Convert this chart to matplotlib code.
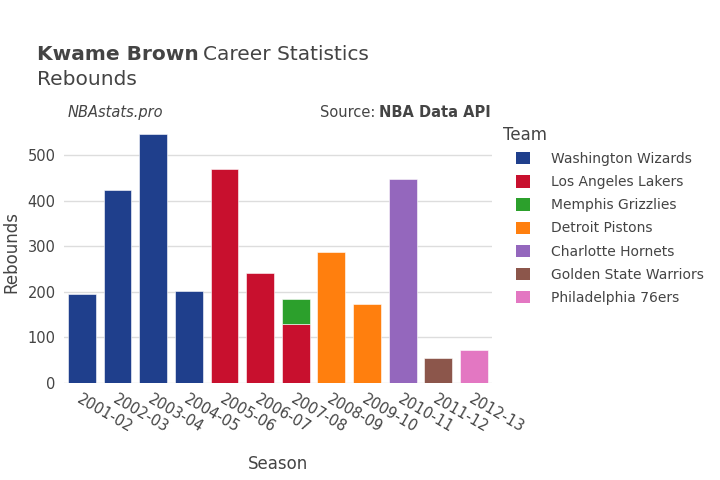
import matplotlib.pyplot as plt
import numpy as np
from matplotlib.patches import Patch

seasons = ["2001-02", "2002-03", "2003-04", "2004-05", "2005-06", "2006-07",
           "2007-08", "2008-09", "2009-10", "2010-11", "2011-12", "2012-13"]

teams = ["Washington Wizards", "Los Angeles Lakers", "Memphis Grizzlies",
         "Detroit Pistons", "Charlotte Hornets", "Golden State Warriors",
         "Philadelphia 76ers"]

team_colors = ["#1f3f8c", "#c8102e", "#2ca02c", "#ff7f0e", "#9467bd",
               "#8c564b", "#e377c2"]

# rebounds per season for each team (0 = did not play there)
wizards = [196, 423, 547, 203, 0, 0, 0, 0, 0, 0, 0, 0]
lakers = [0, 0, 0, 0, 470, 242, 130, 0, 0, 0, 0, 0]
grizzlies = [0, 0, 0, 0, 0, 0, 55, 0, 0, 0, 0, 0]
pistons = [0, 0, 0, 0, 0, 0, 0, 288, 174, 0, 0, 0]
hornets = [0, 0, 0, 0, 0, 0, 0, 0, 0, 448, 0, 0]
warriors = [0, 0, 0, 0, 0, 0, 0, 0, 0, 0, 55, 0]
sixers = [0, 0, 0, 0, 0, 0, 0, 0, 0, 0, 0, 72]

series = [wizards, lakers, grizzlies, pistons, hornets, warriors, sixers]

plt.rcParams['font.family'] = ['DejaVu Sans']
txt = "#444444"

fig = plt.figure(figsize=(7.2, 4.8), dpi=100)
ax = fig.add_axes([0.089, 0.202, 0.594, 0.546])

x = np.arange(len(seasons))
bottom = np.zeros(len(seasons))
for vals, col in zip(series, team_colors):
    v = np.array(vals, dtype=float)
    mask = v > 0
    ax.bar(x[mask], v[mask], bottom=bottom[mask], width=0.78, color=col,
           edgecolor="white", linewidth=0.4, zorder=3)
    bottom += v

ax.set_xlim(-0.5, len(seasons) - 0.5)
ax.set_ylim(0, 575)
ax.set_yticks([0, 100, 200, 300, 400, 500])
ax.grid(axis="y", color="#dddddd", linewidth=1, zorder=0)
for s in ax.spines.values():
    s.set_visible(False)
ax.tick_params(length=0, labelsize=10.5, colors=txt, pad=6)
ax.set_xticks(x)
ax.set_xticklabels(seasons, rotation=-30, ha="left", va="top",
                   rotation_mode="anchor")
ax.set_ylabel("Rebounds", fontsize=12, color=txt, labelpad=5)
ax.set_xlabel("Season", fontsize=12, color=txt, labelpad=14)

fig.canvas.draw()
r = fig.canvas.get_renderer()

t1 = fig.text(0.051, 0.875, "Kwame Brown", fontsize=14.5, fontweight="bold", color=txt)
bb = t1.get_window_extent(r)
fig.text((bb.x1 + 5) / 720, 0.875, "Career Statistics", fontsize=14.5, color=txt)
fig.text(0.051, 0.822, "Rebounds", fontsize=14.5, color=txt)
fig.text(0.094, 0.757, "NBAstats.pro", fontsize=10.5, style="italic", color=txt)
t2 = fig.text(0.682, 0.757, "NBA Data API", fontsize=10.5, fontweight="bold",
              color=txt, ha="right")
bb2 = t2.get_window_extent(r)
fig.text((bb2.x0 - 4) / 720, 0.757, "Source:", fontsize=10.5, color=txt, ha="right")

fig.text(503 / 720, 1 - 135 / 480, "Team", fontsize=12, color=txt, va="center")
handles = [Patch(facecolor=c, edgecolor="none") for c in team_colors]
leg = fig.legend(handles, teams, loc="upper left",
                 bbox_to_anchor=(516 / 720, 1 - 152 / 480),
                 frameon=False, fontsize=10, borderpad=0, borderaxespad=0,
                 handlelength=1.0, handleheight=1.0, handletextpad=1.5,
                 labelspacing=0.66, labelcolor=txt)

fig.savefig("out.png", dpi=100)
